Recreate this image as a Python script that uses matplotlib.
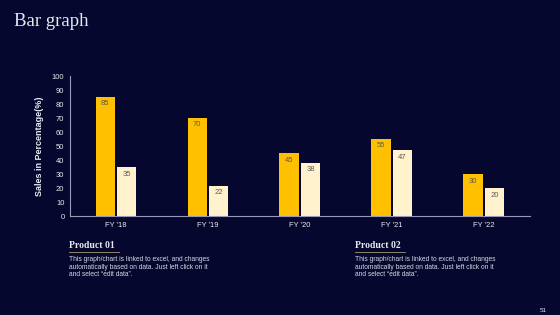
import matplotlib
matplotlib.use("Agg")
import matplotlib.pyplot as plt
import numpy as np

categories = ["FY '18", "FY '19", "FY '20", "FY '21", "FY '22"]
product_01 = [85, 70, 45, 55, 30]
product_02 = [35, 22, 38, 47, 20]
y_ticks = list(range(0, 101, 10))

bg = "#06072e"
orange = "#FFC000"
cream = "#FFF2CC"
axis_col = "#9a9ab8"
txt = "#e8e8f0"

fig = plt.figure(figsize=(5.6, 3.15), dpi=100)
fig.patch.set_facecolor(bg)
ax = fig.add_axes([0.125, 0.3127, 0.821, 0.4460])
ax.set_facecolor(bg)

x = np.arange(len(categories))
w = 0.21
off = 0.117
b1 = ax.bar(x - off, product_01, width=w, color=orange)
b2 = ax.bar(x + off, product_02, width=w, color=cream)
for bars, vals in ((b1, product_01), (b2, product_02)):
    for rect, v in zip(bars, vals):
        ax.text(rect.get_x() + rect.get_width() / 2, v - 2.3, str(v),
                ha="center", va="top", fontsize=5.5, color="#595959",
                family="Liberation Sans")

ax.set_xlim(-0.5, 4.5)
ax.set_ylim(0, 100)
ax.set_yticks(y_ticks)
ax.set_xticks(x)
ax.set_xticklabels(categories)
ax.tick_params(axis="both", length=0, labelsize=5.5, labelcolor=txt, pad=4)
for lab in ax.get_xticklabels() + ax.get_yticklabels():
    lab.set_family("Liberation Sans")
for s in ("top", "right"):
    ax.spines[s].set_visible(False)
for s in ("left", "bottom"):
    ax.spines[s].set_color(axis_col)
    ax.spines[s].set_linewidth(0.8)
ax.set_ylabel("Sales in Percentage(%)", fontsize=6.5, fontweight="bold",
              color=txt, family="Liberation Sans", labelpad=6)

fig.text(14 / 560, 1 - 22 / 315, "Bar graph", fontsize=13.5, color=txt,
         family="Liberation Serif", va="center", ha="left")

body = ("This graph/chart is linked to excel, and changes\n"
        "automatically based on data. Just left click on it\n"
        "and select \u201cedit data\u201d.")
for xp, title in ((69, "Product 01"), (355, "Product 02")):
    fig.text(xp / 560, 1 - 245 / 315, title, fontsize=7, fontweight="bold",
             color=txt, family="Liberation Serif", va="center", ha="left")
    fig.add_artist(plt.Line2D([xp / 560, (xp + 50) / 560],
                              [1 - 252 / 315, 1 - 252 / 315],
                              color="#a89a70", linewidth=0.6))
    fig.text(xp / 560, 1 - 256 / 315, body, fontsize=4.8, color="#d8d8e4",
             family="Liberation Sans", va="top", ha="left", linespacing=1.15)

fig.text(540 / 560, 1 - 311 / 315, "51", fontsize=4.5, color=txt,
         family="Liberation Sans", va="center", ha="left")

fig.savefig("out.png", dpi=100, facecolor=bg)
